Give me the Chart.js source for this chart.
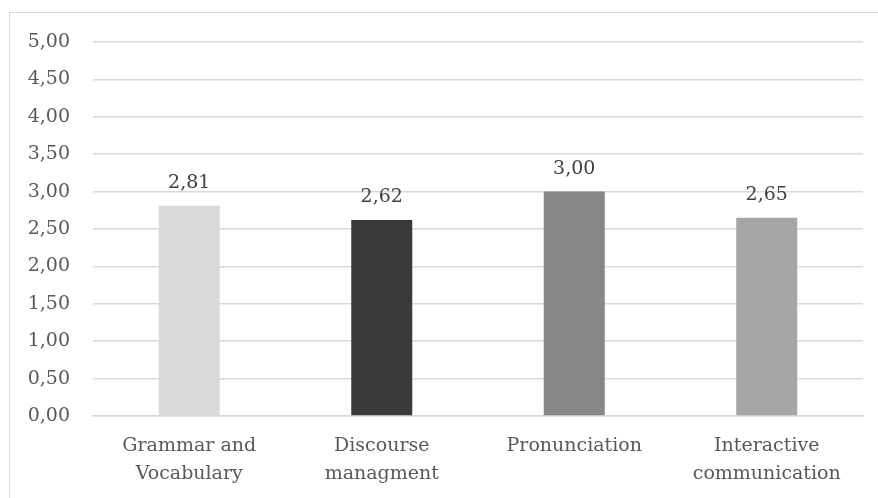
<!DOCTYPE html>
<html>
<head>
<meta charset="utf-8">
<script src="https://cdn.jsdelivr.net/npm/chart.js@4/dist/chart.umd.min.js"></script>
<style>
  html, body { margin: 0; padding: 0; background: #fff; overflow: hidden; }
  #wrap { position: relative; width: 878px; height: 498px; overflow: hidden; }
  #frame { position: absolute; left: 9px; top: 12px; width: 900px; height: 520px; border: 1.5px solid #d9d9d9; box-sizing: border-box; }
  canvas { position: absolute; left: 0; top: 0; }
</style>
</head>
<body>
<div id="wrap">
  <div id="frame"></div>
  <canvas id="c" width="878" height="498"></canvas>
</div>
<script>
const categories = [["Grammar and", "Vocabulary"], ["Discourse", "managment"], "Pronunciation", ["Interactive", "communication"]];
const scores = [2.81, 2.62, 3.00, 2.65];
const barColors = ["#d9d9d9", "#3a3a3a", "#878787", "#a6a6a6"];
const yTicks = [0, 0.5, 1, 1.5, 2, 2.5, 3, 3.5, 4, 4.5, 5];

const FONT = "'DejaVu Serif', serif";
const fmt = v => v.toFixed(2).replace('.', ',');

const valueLabels = {
  id: 'valueLabels',
  afterDatasetsDraw(chart) {
    const ctx = chart.ctx;
    const meta = chart.getDatasetMeta(0);
    ctx.save();
    ctx.font = "19px " + FONT;
    ctx.fillStyle = "#404040";
    ctx.textAlign = "center";
    ctx.textBaseline = "middle";
    meta.data.forEach((bar, i) => {
      ctx.fillText(fmt(scores[i]), bar.x, bar.y - 23);
    });
    ctx.restore();
  }
};

new Chart(document.getElementById('c'), {
  type: 'bar',
  data: {
    labels: categories,
    datasets: [{
      data: scores,
      backgroundColor: barColors,
      borderWidth: 0,
      barPercentage: 0.317,
      categoryPercentage: 1
    }]
  },
  options: {
    responsive: false,
    animation: false,
    layout: { padding: { left: 0, right: 15, top: 42, bottom: 0 } },
    plugins: { legend: { display: false }, tooltip: { enabled: false } },
    scales: {
      y: {
        min: 0, max: 5,
        afterBuildTicks: s => { s.ticks = yTicks.map(v => ({ value: v })); },
        afterFit: s => { s.width = 93; },
        grid: { color: "#d9d9d9", lineWidth: 1.5, drawTicks: false },
        border: { display: false },
        ticks: {
          padding: 23,
          color: "#595959",
          font: { family: FONT, size: 19 },
          callback: v => fmt(v)
        }
      },
      x: {
        afterFit: s => { s.height = 82; },
        grid: { display: false, drawTicks: false },
        border: { color: "#d9d9d9", width: 1.5 },
        ticks: {
          padding: 16,
          color: "#595959",
          font: { family: FONT, size: 19, lineHeight: 1.47 },
          maxRotation: 0, autoSkip: false
        }
      }
    }
  },
  plugins: [valueLabels]
});
</script>
</body>
</html>
